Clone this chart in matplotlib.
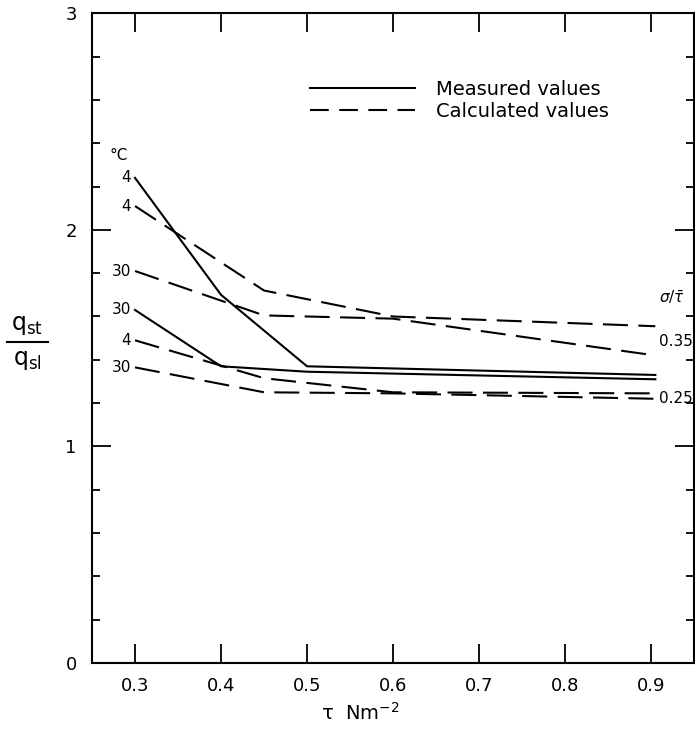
import matplotlib.pyplot as plt
from matplotlib.lines import Line2D

# Measured values (solid)
tau_meas = [0.3, 0.4, 0.5, 0.905]
meas_4 = [2.24, 1.70, 1.37, 1.33]
meas_30 = [1.63, 1.37, 1.345, 1.31]

# Calculated values (dashed)
tau_calc = [0.3, 0.45, 0.6, 0.905]
calc_4_035 = [2.11, 1.72, 1.60, 1.555]
calc_30_035 = [1.81, 1.605, 1.59, 1.42]
calc_4_025 = [1.49, 1.315, 1.25, 1.245]
calc_30_025 = [1.365, 1.25, 1.245, 1.22]

x_ticks = [0.3, 0.4, 0.5, 0.6, 0.7, 0.8, 0.9]
x_labels = ["0.3", "0.4", "0.5", "0.6", "0.7", "0.8", "0.9"]
y_ticks = [0, 1, 2, 3]

fig = plt.figure(figsize=(6.95, 7.32), dpi=100)
ax = fig.add_axes([0.1324, 0.0943, 0.8662, 0.8875])

dash = (0, (12, 5))
lw = 1.5
ax.plot(tau_meas, meas_4, color="black", lw=lw)
ax.plot(tau_meas, meas_30, color="black", lw=lw)
ax.plot(tau_calc, calc_4_035, color="black", lw=lw, linestyle=dash)
ax.plot(tau_calc, calc_30_035, color="black", lw=lw, linestyle=dash)
ax.plot(tau_calc, calc_4_025, color="black", lw=lw, linestyle=dash)
ax.plot(tau_calc, calc_30_025, color="black", lw=lw, linestyle=dash)

# temperature labels at the start of each curve
start_labels = [("4", meas_4[0]), ("4", calc_4_035[0]), ("30", calc_30_035[0]),
                ("30", meas_30[0]), ("4", calc_4_025[0]), ("30", calc_30_025[0])]
for lab, yv in start_labels:
    ax.text(0.2955, yv, lab, ha="right", va="center", fontsize=11)
ax.text(0.281, 2.345, "°C", ha="center", va="center", fontsize=11)

# sigma/tau labels at the right
ax.text(0.909, 1.69, r"$\sigma/\bar{\tau}$", ha="left", va="center", fontsize=11)
ax.text(0.909, 1.485, "0.35", ha="left", va="center", fontsize=11)
ax.text(0.909, 1.22, "0.25", ha="left", va="center", fontsize=11)

ax.set_xlim(0.25, 0.95)
ax.set_ylim(0, 3)
ax.set_xticks(x_ticks)
ax.set_xticklabels(x_labels)
ax.set_yticks(y_ticks)
ax.set_yticks([0.2 * i for i in range(1, 15) if i % 5 != 0], minor=True)
ax.tick_params(axis="both", which="major", direction="in", length=14, width=1.3,
               labelsize=13, top=True, right=True)
ax.tick_params(axis="y", which="major", pad=11)
ax.tick_params(axis="x", which="major", pad=10)
ax.tick_params(axis="y", which="minor", direction="in", length=6, width=1.3, right=True)
for s in ax.spines.values():
    s.set_linewidth(1.5)

ax.set_xlabel(r"τ  Nm$^{-2}$", fontsize=14, va="center")
ax.xaxis.set_label_coords(0.445, -0.077)

# y label as a fraction
fig.text(27 / 695, 1 - 325 / 732, r"$\mathrm{q_{st}}$", ha="center", va="center", fontsize=17)
fig.text(27 / 695, 1 - 360 / 732, r"$\mathrm{q_{sl}}$", ha="center", va="center", fontsize=17)
fig.add_artist(Line2D([7 / 695, 48 / 695], [1 - 342 / 732, 1 - 342 / 732],
                      color="black", lw=1.5))

# legend
handles = [Line2D([], [], color="black", lw=lw),
           Line2D([], [], color="black", lw=lw, linestyle=(0, (9, 5)))]
ax.legend(handles, ["Measured values", "Calculated values"], loc="center left",
          bbox_to_anchor=(0.362, 0.866), frameon=False, fontsize=14,
          handlelength=5.4, handletextpad=1.1, labelspacing=0.15,
          borderpad=0, borderaxespad=0)

plt.savefig("out.png", dpi=100)
